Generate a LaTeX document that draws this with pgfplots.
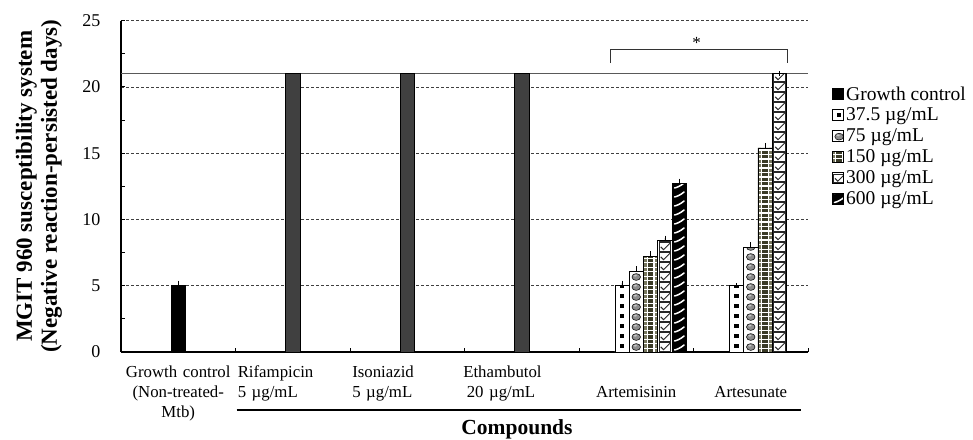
\documentclass[border=0pt]{standalone}
\usepackage{fontspec}
\setmainfont{Liberation Serif}
\usepackage{pgfplots}
\pgfplotsset{compat=1.18}
\definecolor{olA}{RGB}{120,120,95}
\definecolor{olB}{RGB}{58,58,38}
\definecolor{drug}{RGB}{64,64,64}
\definecolor{circg}{RGB}{140,140,140}
\definecolor{circl}{RGB}{200,200,200}
\definecolor{chkc}{RGB}{40,40,40}

\def\ppsw{\pgftransformshift{\pgfpointanchor{path picture bounding box}{south west}}}
\tikzset{
 motA/.style={fill=white, path picture={\ppsw\pgfsetfillcolor{black}%
   \foreach \i in {0,8}{\foreach \j in {0,...,7}{%
     \pgfpathrectangle{\pgfpoint{\i*14.3125pt+4.9pt}{\j*10pt+4pt}}{\pgfqpoint{4.5pt}{3.8pt}}\pgfusepath{fill}}}}},
 motB/.style={fill=white, path picture={\ppsw\pgfsetlinewidth{0.5pt}%
   \foreach \i in {0,8}{\foreach \j in {0,...,11}{%
     \pgfsetfillcolor{circg}\pgfsetstrokecolor{black}%
     \pgfpathellipse{\pgfpoint{\i*14.3125pt+7.15pt}{\j*10pt+5pt}}{\pgfqpoint{4.3pt}{0pt}}{\pgfqpoint{0pt}{3.4pt}}\pgfusepath{fill,stroke}%
     \pgfsetfillcolor{circl}%
     \pgfpathellipse{\pgfpoint{\i*14.3125pt+6.2pt}{\j*10pt+6.3pt}}{\pgfqpoint{1.8pt}{0pt}}{\pgfqpoint{0pt}{1pt}}\pgfusepath{fill}}}}},
 motC/.style={fill=olB, path picture={\ppsw%
   \foreach \i in {0,8}{%
     \pgfsetfillcolor{olA}%
     \pgfpathrectangle{\pgfpoint{\i*14.3125pt}{0pt}}{\pgfqpoint{3.2pt}{300pt}}\pgfusepath{fill}%
     \pgfpathrectangle{\pgfpoint{\i*14.3125pt+11.1pt}{0pt}}{\pgfqpoint{3.2pt}{300pt}}\pgfusepath{fill}%
     \pgfsetfillcolor{white}%
     \pgfpathrectangle{\pgfpoint{\i*14.3125pt+3.2pt}{0pt}}{\pgfqpoint{1.1pt}{300pt}}\pgfusepath{fill}%
     \pgfpathrectangle{\pgfpoint{\i*14.3125pt+10pt}{0pt}}{\pgfqpoint{1.1pt}{300pt}}\pgfusepath{fill}}%
   \foreach \j in {0,...,46}{%
     \pgfsetfillcolor{white}%
     \pgfpathrectangle{\pgfpoint{0pt}{\j*4.5pt+3.4pt}}{\pgfqpoint{130pt}{1.1pt}}\pgfusepath{fill}}}},
 motD/.style={fill=white, path picture={\ppsw%
   \foreach \i in {0,8}{\foreach \j in {0,...,28}{%
     \pgfsetstrokecolor{chkc}\pgfsetlinewidth{0.8pt}%
     \pgfpathrectangle{\pgfpoint{\i*14.3125pt+1.4pt}{\j*10pt+0.8pt}}{\pgfqpoint{11.5pt}{8.4pt}}\pgfusepath{stroke}%
     \pgfsetlinewidth{1pt}%
     \pgfpathmoveto{\pgfpoint{\i*14.3125pt+3pt}{\j*10pt+5.2pt}}%
     \pgfpathlineto{\pgfpoint{\i*14.3125pt+5.8pt}{\j*10pt+2.3pt}}%
     \pgfpathlineto{\pgfpoint{\i*14.3125pt+12.6pt}{\j*10pt+9.1pt}}%
     \pgfusepath{stroke}}}}},
 motE/.style={fill=black, path picture={\ppsw%
   \foreach \j in {0,...,19}{%
     \pgfsetstrokecolor{white}\pgfsetlinewidth{1.5pt}\pgfsetroundcap%
     \pgfpathmoveto{\pgfpoint{2.5pt}{\j*9pt+2pt}}%
     \pgfpathcurveto{\pgfpoint{5.5pt}{\j*9pt+2.6pt}}{\pgfpoint{9pt}{\j*9pt+4.5pt}}{\pgfpoint{12pt}{\j*9pt+7pt}}%
     \pgfusepath{stroke}}}},
}

\pgfplotsset{myleg/.style={legend image code/.code={\draw[##1,/tikz/.cd,line width=0.5pt] (0pt,-5.5pt) rectangle (11.5pt,6pt);}}}

\begin{document}
\begin{tikzpicture}
\useasboundingbox (0,0) rectangle (973pt,439pt);
\begin{axis}[
 at={(121pt,87pt)}, anchor=south west,
 scale only axis, width=687pt, height=331.3pt,
 xmin=-0.5, xmax=5.5, ymin=0, ymax=25,
 axis x line*=bottom, axis y line*=left,
 axis line style={line width=1.2pt, black},
 xtick={0.5,1.5,2.5,3.5,4.5,5.5}, xticklabels={},
 extra x ticks={0,1,2,3,4,5},
 extra x tick labels={
  {\makebox[110pt][c]{\begin{tabular}[t]{@{}c@{}}\strut Growth control\\(Non-treated-\\Mtb)\end{tabular}}},
  {\strut Rifampicin\\5 µg/mL},
  {\strut Isoniazid\\5 µg/mL},
  {\strut\hspace*{-3.5pt}Ethambutol\\20 µg/mL},
  {\makebox[110pt][c]{\begin{tabular}[t]{@{}c@{}}\strut\\Artemisinin\end{tabular}}},
  {\makebox[110pt][c]{\begin{tabular}[t]{@{}c@{}}\strut\\Artesunate\end{tabular}}}},
 extra x tick style={major tick length=0pt, tick label style={font=\fontsize{16.8}{20}\selectfont, text width=110pt, align=left, anchor=north, yshift=-8pt}},
 ytick={0,5,10,15,20,25}, minor ytick={2.5,7.5,12.5,17.5,22.5},
 tick align=inside, major tick length=4pt, minor tick length=4pt,
 tick style={black, line width=1pt},
 ymajorgrids, major grid style={dash pattern=on 3pt off 2pt, black!75, line width=0.8pt},
 yticklabel style={font=\fontsize{18}{20}\selectfont, xshift=-17pt},
 /pgf/number format/assume math mode=true,
 ylabel={MGIT 960 susceptibility system\\(Negative reaction-persisted days)},
 ylabel style={at={(axis description cs:-0.1194,0.5)}, anchor=center, align=center, font=\bfseries\fontsize{23}{25}\selectfont},
 xlabel={Compounds},
 xlabel style={at={(axis description cs:0.5764,-0.2325)}, anchor=center, font=\bfseries\fontsize{21.5}{26}\selectfont},
 legend cell align=left,
 legend style={at={(axis description cs:1.0335,0.808)}, anchor=north west, draw=none, fill=none, font=\fontsize{19.5}{21}\selectfont, row sep=2.5pt, inner sep=0pt},
 clip=false,
]
\addplot[forget plot, line width=1.2pt, black!65, no markers] coordinates {(-0.5,21) (5.5,21)};

\addplot[ybar, bar width=14.3125pt, bar shift=0pt, fill=black, draw=black, line width=0.5pt, myleg,
  error bars/.cd, y dir=plus, y explicit, error bar style={line width=0.7pt,black}, error mark options={line width=0.7pt, mark size=2.5pt, black}]
  coordinates {(0,5.0) +- (0,0.2)};
\addlegendentry{Growth control}

\addplot[ybar, bar width=14.3125pt, bar shift=0pt, fill=drug, draw=black, line width=0.5pt, forget plot]
  coordinates {(1,21) (2,21) (3,21)};

\addplot[ybar, bar width=14.3125pt, bar shift=0pt, motA, draw=black, line width=0.5pt, myleg,
  error bars/.cd, y dir=plus, y explicit, error bar style={line width=0.7pt,black}, error mark options={line width=0.7pt, mark size=2.5pt, black}]
  coordinates {(3.875,5.0) +- (0,0.2) (4.875,5.0) +- (0,0)};
\addlegendentry{37.5 µg/mL}

\addplot[ybar, bar width=14.3125pt, bar shift=0pt, motB, draw=black, line width=0.5pt, myleg,
  error bars/.cd, y dir=plus, y explicit, error bar style={line width=0.7pt,black}, error mark options={line width=0.7pt, mark size=2.5pt, black}]
  coordinates {(4,6.1) +- (0,0.2) (5,7.9) +- (0,0.2)};
\addlegendentry{75 µg/mL}

\addplot[ybar, bar width=14.3125pt, bar shift=0pt, motC, draw=black, line width=0.5pt, myleg,
  error bars/.cd, y dir=plus, y explicit, error bar style={line width=0.7pt,black}, error mark options={line width=0.7pt, mark size=2.5pt, black}]
  coordinates {(4.125,7.2) +- (0,0.2) (5.125,15.4) +- (0,0.2)};
\addlegendentry{150 µg/mL}

\addplot[ybar, bar width=14.3125pt, bar shift=0pt, motD, draw=black, line width=0.5pt, myleg,
  error bars/.cd, y dir=plus, y explicit, error bar style={line width=0.7pt,black}, error mark options={line width=0.7pt, mark size=2.5pt, black}]
  coordinates {(4.25,8.4) +- (0,0.2) (5.25,21.0) +- (0,0)};
\addlegendentry{300 µg/mL}

\addplot[ybar, bar width=14.3125pt, bar shift=0pt, motE, draw=black, line width=0.5pt, myleg,
  error bars/.cd, y dir=plus, y explicit, error bar style={line width=0.7pt,black}, error mark options={line width=0.7pt, mark size=2.5pt, black}]
  coordinates {(4.375,12.7) +- (0,0.2)};
\addlegendentry{600 µg/mL}

\draw[line width=1pt, black!80] (axis cs:3.777,21.8) -- (axis cs:3.777,22.84) -- (axis cs:5.325,22.84) -- (axis cs:5.325,21.8);
\node[font=\fontsize{17}{20}\selectfont] at (axis cs:4.528,23.3) {*};
\draw[line width=1.2pt] (axis description cs:0.1684,-0.1751) -- (axis description cs:0.9894,-0.1751);
\end{axis}
\end{tikzpicture}
\end{document}
